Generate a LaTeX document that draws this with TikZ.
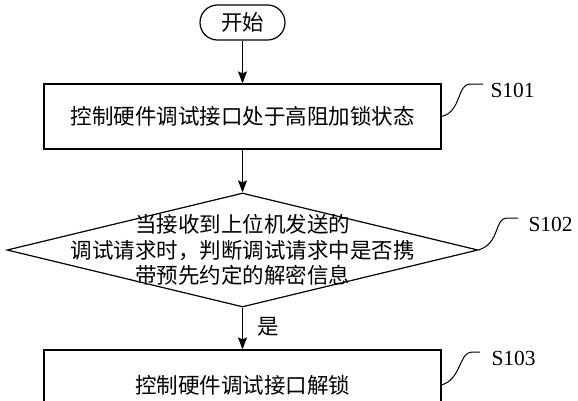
\documentclass[tikz,border=0pt]{standalone}
\usepackage{fontspec}
\setmainfont{Liberation Serif}
\newfontfamily\cjk{Noto Sans CJK SC}
\usetikzlibrary{arrows.meta,shapes.geometric}

\newcommand\zhfont{\cjk\fontsize{21.5}{25.5}\selectfont}

\tikzset{
  startnode/.style={draw, rounded corners=17.5pt, minimum width=85pt, minimum height=35pt, inner sep=0pt, font=\zhfont},
  stepnode/.style={draw, minimum width=397pt, minimum height=65pt, inner sep=0pt, font=\zhfont},
  judgenode/.style={draw, diamond, minimum width=471pt, minimum height=114pt, inner sep=0pt},
  flow/.style={-{Stealth[length=12pt, width=9pt, inset=2pt]}},
  tagline/.style={line width=1pt},
  tagtext/.style={right, xshift=3.7pt, yshift=-6pt, font=\fontsize{21.5}{24}\selectfont}
}

\begin{document}
\begin{tikzpicture}[x=1pt, y=-1pt, line width=1.2pt]
  \useasboundingbox (0,0) rectangle (578,400);
  \clip (0,0) rectangle (578,400);

  % flow
  \node[startnode] (start) at (242.5,22.5) {开始};
  \node[stepnode] (lock) at (242.5,116.5) {控制硬件调试接口处于高阻加锁状态};
  \node[judgenode] (judge) at (242.5,250) {};
  \node[align=center, inner sep=0pt, font=\zhfont] (judgetext) at (judge.center)
    {当接收到上位机发送的\\调试请求时，判断调试请求中是否携\\带预先约定的解密信息};
  \node[stepnode, minimum height=70pt] (unlock) at (242.5,385) {控制硬件调试接口解锁};

  \draw[flow] (start) -- (lock);
  \draw[flow] (lock) -- (judge);
  \draw[flow] (judge) -- node[right, xshift=11pt, pos=0.45, font=\zhfont] (yes) {是} (unlock);

  % step tags
  \coordinate (tag1) at (470,84);
  \coordinate (tag2) at (507,218);
  \coordinate (tag3) at (472,352);
  \draw[tagline] (lock.east) .. controls +(20,-5) and +(-13,0) .. (tag1) -- ++(13,0) node[tagtext] {S101};
  \draw[tagline] (judge.east) .. controls +(22,-7) and +(-13,0) .. (tag2) -- ++(11,0) node[tagtext, xshift=3pt] {S102};
  \draw[tagline] (unlock.east) .. controls +(20,-6) and +(-13,0) .. (tag3) -- ++(8,0) node[tagtext, xshift=4pt] {S103};
\end{tikzpicture}
\end{document}
